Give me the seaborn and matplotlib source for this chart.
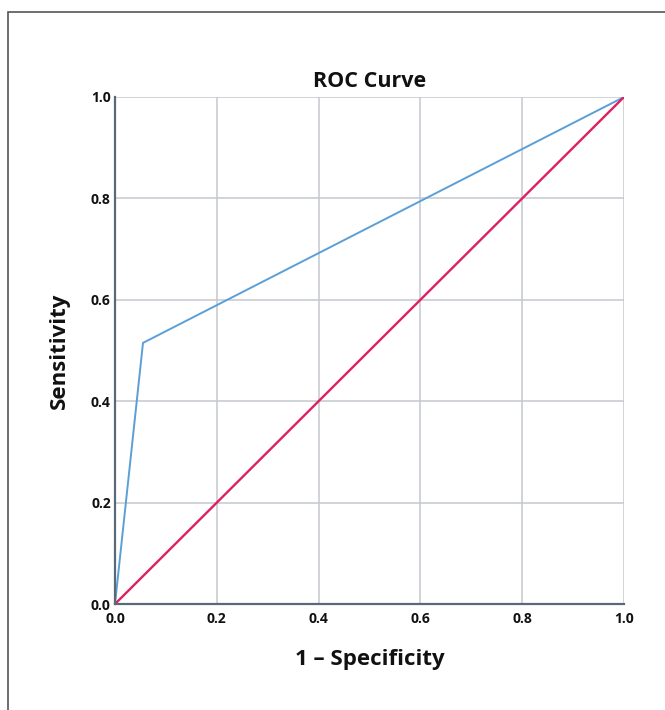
import matplotlib
matplotlib.use("Agg")
import matplotlib.pyplot as plt
import seaborn as sns
import pandas as pd
from matplotlib.patches import Rectangle

fpr = [0.0, 0.055, 1.0]
tpr = [0.0, 0.515, 1.0]
ref_x = [0.0, 1.0]
ref_y = [0.0, 1.0]
ticks = [0.0, 0.2, 0.4, 0.6, 0.8, 1.0]
tick_labels = ["0.0", "0.2", "0.4", "0.6", "0.8", "1.0"]

sns.set_theme(style="white")
plt.rcParams['font.family'] = ['Open Sans', 'DejaVu Sans']
plt.rcParams['text.color'] = '#111111'
plt.rcParams['axes.labelcolor'] = '#111111'
plt.rcParams['xtick.color'] = '#111111'
plt.rcParams['ytick.color'] = '#111111'

fig = plt.figure(figsize=(6.65, 7.1), dpi=100)
ax = fig.add_axes([115/665, 1-604/710, (624-115)/665, (604-97)/710])

df = pd.DataFrame({"x": fpr, "y": tpr})
dref = pd.DataFrame({"x": ref_x, "y": ref_y})
sns.lineplot(data=df, x="x", y="y", ax=ax, color="#5b9fd6", linewidth=1.4, sort=False)
sns.lineplot(data=dref, x="x", y="y", ax=ax, color="#dd2160", linewidth=1.7, sort=False)

ax.set_xlim(0, 1)
ax.set_ylim(0, 1)
ax.set_xticks(ticks)
ax.set_yticks(ticks)
ax.set_xticklabels(tick_labels, fontweight="bold", fontsize=10)
ax.set_yticklabels(tick_labels, fontweight="bold", fontsize=10)
ax.tick_params(axis="x", length=0, pad=6)
ax.tick_params(axis="y", length=0, pad=3)
ax.grid(True, color="#c4c8ce", linewidth=1.1)
ax.set_axisbelow(True)
for s in ["top", "right"]:
    ax.spines[s].set_visible(False)
for s in ["left", "bottom"]:
    ax.spines[s].set_color("#5a6878")
    ax.spines[s].set_linewidth(1.6)

ax.set_xlabel("1 \u2013 Specificity", fontweight="bold", fontsize=16, labelpad=16)
ax.set_ylabel("Sensitivity", fontweight="bold", fontsize=16, labelpad=15)
ax.set_title("ROC Curve", fontweight="bold", fontsize=15.5, pad=7)

fig.patches.append(Rectangle((8/665, -0.1), 1.2, 1 - 12/710 + 0.1, transform=fig.transFigure,
                             fill=False, edgecolor="#555555", linewidth=1.2))

fig.savefig("out.png", dpi=100)
